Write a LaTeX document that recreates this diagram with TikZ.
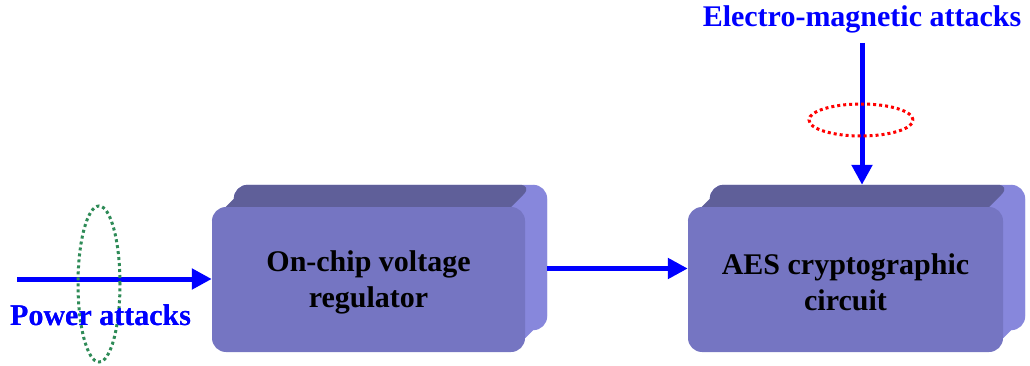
\documentclass[tikz,border=0pt]{standalone}
\usepackage{fontspec}
\setmainfont{Liberation Serif}
\usetikzlibrary{arrows.meta,calc,shapes.geometric,backgrounds}
\definecolor{frontc}{HTML}{7575C2}
\definecolor{topc}{HTML}{5F5F99}
\definecolor{sidec}{HTML}{8787DC}
\definecolor{atk}{HTML}{0000FF}
\definecolor{pgreen}{HTML}{2E8B57}
\definecolor{pred}{HTML}{FF0000}
\tikzset{
  frontbox/.style={fill=frontc, rounded corners=14pt, minimum width=313pt, minimum height=145pt,
    inner sep=0pt, align=center, font=\bfseries\fontsize{30}{36}\selectfont},
  atkarrow/.style={draw=atk, line width=5pt, -{Triangle[length=20pt,width=20pt]}},
  atklabel/.style={text=atk, font=\bfseries\fontsize{30}{36}\selectfont, inner sep=0pt},
  ring/.style={ellipse, line width=3pt, dash pattern=on 3pt off 3pt, inner sep=0pt},
}
\newcommand\boxfaces[1]{%
  \fill[sidec, rounded corners=14pt] ($(#1.north west)+(22,-22)$) rectangle ($(#1.south east)+(22,-22)$);
  \fill[sidec] ($(#1.north east)+(-14,0)$) -- ($(#1.north east)+(8,-22)$) -- ($(#1.north east)+(22,-8)$)
     -- ($(#1.south east)+(22,-36)$) -- ($(#1.south east)+(0,-14)$) -- cycle;
  \fill[topc] ($(#1.north west)+(0,14)$) -- ($(#1.north west)+(22,-8)$) [rounded corners=14pt]
     -- ($(#1.north west)+(22,-22)$) -- ($(#1.north east)+(8,-22)$) [sharp corners]
     -- ($(#1.north east)+(-14,0)$) -- ($(#1.north west)+(14,0)$) -- cycle;
}
\newcommand\boxstrut{\rule{0pt}{27pt}}
\begin{document}
\begin{tikzpicture}[x=1pt,y=-1pt]
\useasboundingbox (0,0) rectangle (1030,366);
\node[frontbox] (reg) at (368.5,279.5) {\boxstrut On-chip voltage\\regulator};
\node[frontbox, minimum width=315pt] (aes) at (845.5,279.5) {\boxstrut AES cryptographic\\circuit};
\begin{scope}[on background layer]
  \boxfaces{reg}
  \boxfaces{aes}
\end{scope}
% labels
\node[atklabel, anchor=base] (emlab) at (862,27) {Electro-magnetic attacks};
\node[atklabel, anchor=base west] (pwlab) at (10,325) {Power attacks};
% connectors
\coordinate (pin) at (17,279);
\draw[atkarrow] (pin) -- (pin -| reg.west);
\coordinate (regout) at ($(reg.east)+(22,-11)$);
\draw[atkarrow] (regout) -- (regout -| aes.west);
\coordinate (emtop) at (862,43);
\coordinate (aesback) at ($(aes.north)+(0,-22)$);
\draw[atkarrow] (emtop) -- (emtop |- aesback);
% rings
\node[ring, draw=pgreen, minimum width=42pt, minimum height=156pt] (pring) at (99,284) {};
\node[ring, draw=pred, minimum width=104pt, minimum height=32pt] (ering) at (861,120) {};
\node[atklabel, anchor=base west] at (pwlab.base west) {Power attacks};
\end{tikzpicture}
\end{document}
